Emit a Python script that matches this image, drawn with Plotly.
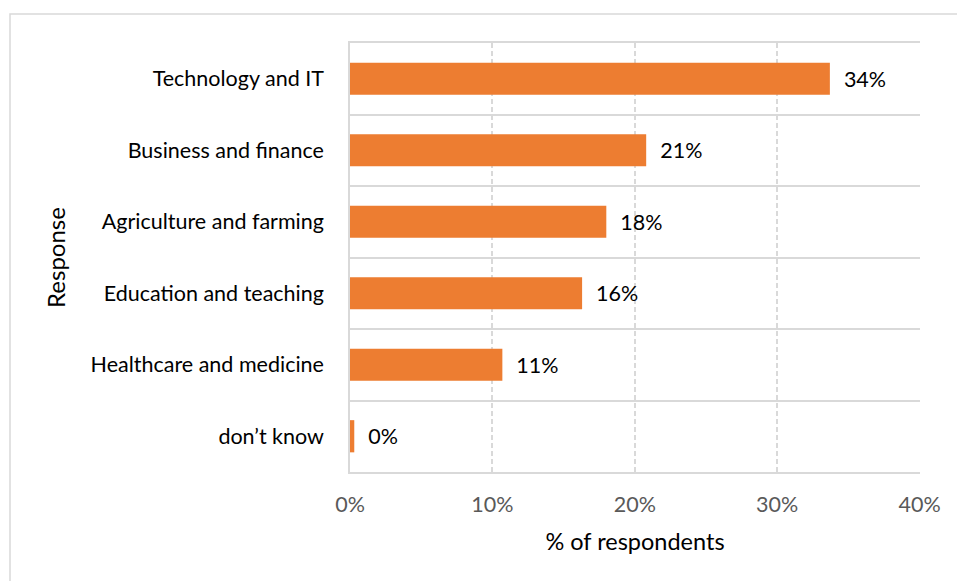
import plotly.graph_objects as go

# Survey responses: share of respondents by field
categories = [
    "Technology and IT",
    "Business and finance",
    "Agriculture and farming",
    "Education and teaching",
    "Healthcare and medicine",
    "don\u2019t know",
]
shares = [0.337, 0.208, 0.180, 0.163, 0.107, 0.003]

# Plot rows top-to-bottom: first category at top
positions = list(range(len(categories)))[::-1]

BAR_COLOR = "#ED7D31"
GRID = "#D9D9D9"
FONT = "Lato, Calibri, sans-serif"

fig = go.Figure(
    go.Bar(
        x=shares,
        y=positions,
        orientation="h",
        marker=dict(color=BAR_COLOR, line=dict(width=0)),
        width=0.45,
        texttemplate="  %{x:.0%}",
        textposition="outside",
        textfont=dict(family=FONT, size=21.5, color="#000000"),
        cliponaxis=False,
        hoverinfo="skip",
    )
)

fig.update_layout(
    width=957,
    height=581,
    margin=dict(l=350, r=37, t=43, b=109),
    paper_bgcolor="white",
    plot_bgcolor="white",
    showlegend=False,
    font=dict(family=FONT, size=21.5, color="#000000"),
)

fig.update_xaxes(
    range=[0, 0.4003],
    tickvals=[0, 0.1, 0.2, 0.3, 0.4],
    tickformat=".0%",
    tickfont=dict(family=FONT, size=21.5, color="#595959"),
    showgrid=True,
    gridcolor=GRID,
    gridwidth=1.5,
    griddash="5px,3px",
    zeroline=False,
    showline=True,
    mirror=True,
    linecolor=GRID,
    linewidth=1.5,
    ticks="",
    ticklabelstandoff=12,
    title=dict(text="% of respondents", font=dict(family=FONT, size=23.5, color="#000000"), standoff=18),
    fixedrange=True,
)

fig.update_yaxes(
    range=[-0.5, len(categories) - 0.5],
    tickvals=positions,
    ticktext=categories,
    tickfont=dict(family=FONT, size=21.5, color="#000000"),
    showgrid=False,
    zeroline=False,
    showline=True,
    linecolor=GRID,
    linewidth=1.5,
    ticks="",
    ticklabelstandoff=20,
    minor=dict(tick0=0.5, dtick=1, showgrid=True, gridcolor=GRID, gridwidth=1.5, ticks=""),
    title=dict(text="Response", font=dict(family=FONT, size=24, color="#000000"), standoff=18),
    fixedrange=True,
)

# Light outer chart border (top and left edges visible)
fig.add_shape(
    type="rect",
    xref="paper",
    yref="paper",
    x0=-0.5965,
    x1=1.3,
    y0=-0.5,
    y1=1.0676,
    line=dict(color=GRID, width=1.5),
    fillcolor="rgba(0,0,0,0)",
    layer="below",
)

fig.write_html("out.html")
